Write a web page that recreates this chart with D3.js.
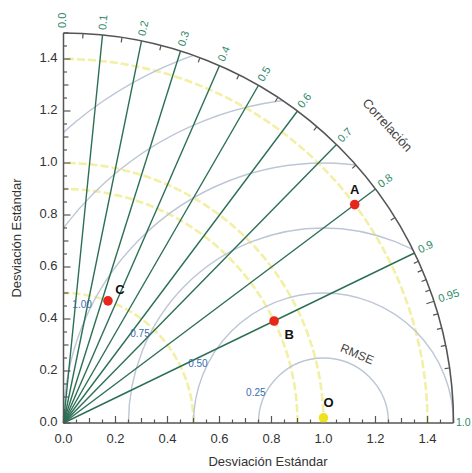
<!DOCTYPE html>
<html><head><meta charset="utf-8">
<script src="https://cdn.jsdelivr.net/npm/d3@7"></script>
<style>body{margin:0;background:#fff}svg{display:block}text{font-family:"Liberation Sans",Arial,sans-serif}</style>
</head><body>
<script>
// ---- data ----
const pointNames = ["A", "B", "C", "O"];
const pointStd = [1.40, 0.90, 0.50, 1.00];
const pointCorr = [0.80, 0.90, 0.342, 0.9998];
const pointColors = ["#e8261c", "#e8261c", "#e8261c", "#eee21e"];
const corrLines = [0.1, 0.2, 0.3, 0.4, 0.5, 0.6, 0.7, 0.8, 0.9];
const corrLabels = [0.0, 0.1, 0.2, 0.3, 0.4, 0.5, 0.6, 0.7, 0.8, 0.9, 0.95, 1.0];
const corrLabelText = ["0.0","0.1","0.2","0.3","0.4","0.5","0.6","0.7","0.8","0.9","0.95","1.0"];
const corrMinorTicks = [0.05,0.15,0.25,0.35,0.45,0.55,0.65,0.75,0.85,0.91,0.92,0.93,0.94,0.96,0.97,0.98,0.99];
const corrMajorTicks = [0.95];
const rmseRadii = [0.25, 0.5, 0.75, 1.0, 1.25, 1.5];
const rmseLabels = ["0.25", "0.50", "0.75", "1.00"];
const axisTicks = [0.0, 0.2, 0.4, 0.6, 0.8, 1.0, 1.2, 1.4];
const maxStd = 1.5;
const refStd = 1.0;

// ---- layout ----
const W = 472, H = 473;
const x = d3.scaleLinear().domain([0, maxStd]).range([63.5, 453.5]);
const y = d3.scaleLinear().domain([0, maxStd]).range([423, 33]);
const R = x(maxStd) - x(0);
const ox = x(0), oy = y(0);
const pol = (r, c) => { const a = Math.acos(c); return [x(r * Math.cos(a)), y(r * Math.sin(a))]; };

const svg = d3.select("body").append("svg").attr("width", W).attr("height", H);
const defs = svg.append("defs");
defs.append("clipPath").attr("id", "quad").append("path")
  .attr("d", `M${ox},${oy} L${x(maxStd)},${oy} A${R},${R} 0 0 0 ${ox},${y(maxStd)} Z`);

const g = svg.append("g");
const clipped = g.append("g").attr("clip-path", "url(#quad)");

// std-dev arcs through each point (pale yellow)
clipped.selectAll("path.sd").data(pointStd).join("path")
  .attr("d", s => { const r = x(s) - ox; return `M${ox + r},${oy} A${r},${r} 0 0 0 ${ox},${oy - r}`; })
  .attr("fill", "none").attr("stroke", "#f3efa4").attr("stroke-width", 2.6)
  .attr("stroke-dasharray", "8,3");

// RMSE circles centred at the reference
clipped.selectAll("circle.rmse").data(rmseRadii).join("circle")
  .attr("cx", x(refStd)).attr("cy", oy).attr("r", d => x(d) - ox)
  .attr("fill", "none").attr("stroke", "#bcc6d6").attr("stroke-width", 1.4);

// correlation lines
g.selectAll("line.corr").data(corrLines).join("line")
  .attr("x1", ox).attr("y1", oy)
  .attr("x2", c => pol(maxStd, c)[0]).attr("y2", c => pol(maxStd, c)[1])
  .attr("stroke", "#2c6f55").attr("stroke-width", 1.4);

// RMSE labels
const rmAng = 153 * Math.PI / 180;
g.selectAll("text.rml").data(rmseLabels).join("text")
  .attr("x", (d, i) => x(refStd + rmseRadii[i] * Math.cos(rmAng)))
  .attr("y", (d, i) => y(rmseRadii[i] * Math.sin(rmAng)))
  .attr("text-anchor", "end").attr("dominant-baseline", "middle")
  .attr("font-size", 10).attr("fill", "#3a6db0").text(d => d);

g.append("text").attr("transform", `translate(${x(1.128)},${y(0.262)}) rotate(23)`)
  .attr("text-anchor", "middle").attr("dominant-baseline", "middle")
  .attr("font-size", 12).attr("fill", "#444").text("RMSE");

// axes lines
const axisCol = "#555";
g.append("line").attr("x1", ox).attr("y1", oy).attr("x2", x(maxStd)).attr("y2", oy).attr("stroke", axisCol).attr("stroke-width", 1.5);
g.append("line").attr("x1", ox).attr("y1", oy).attr("x2", ox).attr("y2", y(maxStd)).attr("stroke", axisCol).attr("stroke-width", 1.5);
g.append("path").attr("d", `M${x(maxStd)},${oy} A${R},${R} 0 0 0 ${ox},${y(maxStd)}`)
  .attr("fill", "none").attr("stroke", axisCol).attr("stroke-width", 1.6);

// axis ticks (inward)
const minor = d3.range(0, 1.5001, 0.05).map(v => +v.toFixed(2));
const tickLen = v => (Math.abs(v / 0.2 - Math.round(v / 0.2)) < 1e-6 ? 7 : (Math.abs(v / 0.1 - Math.round(v / 0.1)) < 1e-6 ? 5 : 3.5));
g.selectAll("line.xt").data(minor).join("line")
  .attr("x1", d => x(d)).attr("x2", d => x(d)).attr("y1", oy).attr("y2", d => oy - tickLen(d))
  .attr("stroke", axisCol).attr("stroke-width", 1.2);
g.selectAll("line.yt").data(minor).join("line")
  .attr("y1", d => y(d)).attr("y2", d => y(d)).attr("x1", ox).attr("x2", d => ox + tickLen(d))
  .attr("stroke", axisCol).attr("stroke-width", 1.2);

// correlation arc ticks
const arcTick = (c, len) => { const a = Math.acos(c); return [ox + R * Math.cos(a), oy - R * Math.sin(a), ox + (R - len) * Math.cos(a), oy - (R - len) * Math.sin(a)]; };
g.selectAll("line.ct").data(corrMinorTicks.map(c => arcTick(c, 5)).concat(corrMajorTicks.map(c => arcTick(c, 8)))).join("line")
  .attr("x1", d => d[0]).attr("y1", d => d[1]).attr("x2", d => d[2]).attr("y2", d => d[3])
  .attr("stroke", axisCol).attr("stroke-width", 1.2);

// axis tick labels
g.selectAll("text.xl").data(axisTicks).join("text")
  .attr("x", d => x(d)).attr("y", oy + 17).attr("text-anchor", "middle").attr("dominant-baseline", "middle")
  .attr("font-size", 13).attr("fill", "#333").text(d => d.toFixed(1));
g.selectAll("text.yl").data(axisTicks).join("text")
  .attr("x", ox - 6).attr("y", d => y(d)).attr("text-anchor", "end").attr("dominant-baseline", "middle")
  .attr("font-size", 13).attr("fill", "#333").text(d => d.toFixed(1));

// correlation labels
g.selectAll("text.cl").data(corrLabels).join("text")
  .attr("transform", c => { const a = Math.acos(c); const r = R + (c === 1 ? 2.5 : 5); return `translate(${ox + r * Math.cos(a)},${oy - r * Math.sin(a)}) rotate(${-a * 180 / Math.PI})`; })
  .attr("text-anchor", "start").attr("dominant-baseline", "middle")
  .attr("font-size", c => c === 1 ? 10.5 : 11).attr("fill", "#2f8a6a").text((c, i) => corrLabelText[i]);

// Correlación title
{ const a = 42.6 * Math.PI / 180, r = 1.689;
  g.append("text").attr("transform", `translate(${x(r * Math.cos(a))},${y(r * Math.sin(a))}) rotate(${90 - 42.6})`)
    .attr("text-anchor", "middle").attr("dominant-baseline", "middle")
    .attr("font-size", 13).attr("fill", "#444").text("Correlación"); }

// axis titles
g.append("text").attr("x", 268).attr("y", 463).attr("text-anchor", "middle").attr("dominant-baseline", "middle")
  .attr("font-size", 13).attr("fill", "#333").text("Desviación Estándar");
g.append("text").attr("transform", "translate(18,238) rotate(-90)").attr("text-anchor", "middle").attr("dominant-baseline", "middle")
  .attr("font-size", 13).attr("fill", "#333").text("Desviación Estándar");

// points
const labelOff = [[0, -14], [15, 15], [12, -10], [5, -14]];
const pts = pointNames.map((n, i) => ({ n, p: pol(pointStd[i], pointCorr[i]), col: pointColors[i], off: labelOff[i] }));
g.selectAll("circle.pt").data(pts).join("circle")
  .attr("cx", d => d.p[0]).attr("cy", d => d.p[1]).attr("r", 4.8).attr("fill", d => d.col);
g.selectAll("text.pl").data(pts).join("text")
  .attr("x", d => d.p[0] + d.off[0]).attr("y", d => d.p[1] + d.off[1])
  .attr("text-anchor", "middle").attr("dominant-baseline", "middle")
  .attr("font-size", 13).attr("font-weight", "bold").attr("fill", "#111").text(d => d.n);
</script>
</body></html>
